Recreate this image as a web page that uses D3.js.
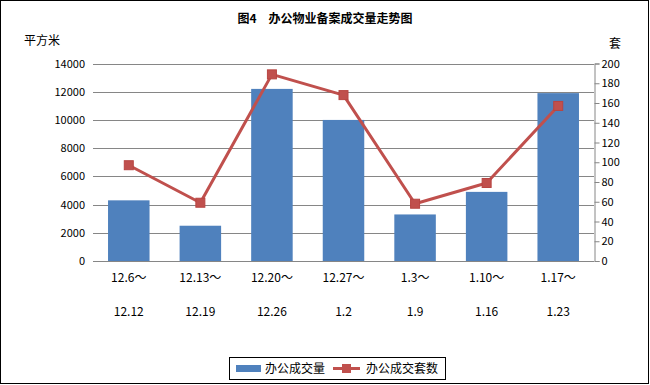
<!DOCTYPE html>
<html><head><meta charset="utf-8">
<script src="https://cdn.jsdelivr.net/npm/d3@7"></script>
<style>body{margin:0;background:#fff}svg{display:block}</style>
</head><body><svg id="c" width="650" height="385"></svg>
<script>
const catTop = ["12.6～","12.13～","12.20～","12.27～","1.3～","1.10～","1.17～"];
const catBottom = ["12.12","12.19","12.26","1.2","1.9","1.16","1.23"];
const areaValues = [4300, 2500, 12200, 10000, 3300, 4900, 11900];
const unitValues = [97, 59, 189, 168, 58, 79, 157];
const leftTicks = [0,2000,4000,6000,8000,10000,12000,14000];
const rightTicks = [0,20,40,60,80,100,120,140,160,180,200];

const svg = d3.select("#c");
const font = "'Noto Sans CJK SC', 'DejaVu Sans', sans-serif";
const L = 93, R = 594, T = 63.5, B = 261;
svg.append("rect").attr("x",0.5).attr("y",0.5).attr("width",648).attr("height",383)
  .attr("fill","#fff").attr("stroke","#000");

const x = d3.scaleBand().domain(d3.range(catTop.length)).range([L,R]).paddingInner(0.42).paddingOuter(0.21);
const yL = d3.scaleLinear().domain([0,14000]).range([B,T]);
const yR = d3.scaleLinear().domain([0,200]).range([B,T]);

// gridlines
svg.append("g").selectAll("line").data(leftTicks).join("line")
  .attr("x1",L).attr("x2",R).attr("y1",d=>Math.round(yL(d))+0.5).attr("y2",d=>Math.round(yL(d))+0.5)
  .attr("stroke","#868686").attr("stroke-width",1);
// left labels
svg.append("g").selectAll("text").data(leftTicks).join("text")
  .attr("x",L-8).attr("y",d=>yL(d)+4).attr("text-anchor","end")
  .attr("font-family",font).attr("font-size",11).attr("fill","#000").text(d=>d);

// bars
svg.append("g").selectAll("rect").data(areaValues).join("rect")
  .attr("x",(d,i)=>x(i)).attr("width",x.bandwidth())
  .attr("y",d=>yL(d)).attr("height",d=>B-yL(d)).attr("fill","#4F81BD");

// right axis
const ra = d3.axisRight(yR).tickValues(rightTicks).tickSize(5).tickPadding(2);
const rg = svg.append("g").attr("transform",`translate(${R+0.5},0)`).call(ra);
rg.select(".domain").attr("stroke","#868686");
rg.selectAll(".tick line").attr("stroke","#868686");
rg.selectAll(".tick text").attr("font-family",font).attr("font-size",11).attr("fill","#000");

// line
const lineGen = d3.line().x((d,i)=>x(i)+x.bandwidth()/2).y(d=>yR(d));
svg.append("path").datum(unitValues).attr("d",lineGen).attr("fill","none")
  .attr("stroke","#C0504D").attr("stroke-width",3).attr("stroke-linejoin","round");
svg.append("g").selectAll("rect").data(unitValues).join("rect")
  .attr("x",(d,i)=>x(i)+x.bandwidth()/2-4.5).attr("y",d=>yR(d)-4.5)
  .attr("width",9).attr("height",9).attr("fill","#C0504D").attr("stroke","#B84542");

// category labels
svg.append("g").selectAll("text").data(catTop).join("text")
  .attr("x",(d,i)=>x(i)+x.bandwidth()/2).attr("y",282).attr("text-anchor","middle")
  .attr("font-family",font).attr("font-size",12).text(d=>d);
svg.append("g").selectAll("text").data(catBottom).join("text")
  .attr("x",(d,i)=>x(i)+x.bandwidth()/2).attr("y",316).attr("text-anchor","middle")
  .attr("font-family",font).attr("font-size",12).text(d=>d);

// titles
svg.append("text").attr("x",325).attr("y",23).attr("text-anchor","middle")
  .attr("font-family",font).attr("font-size",12).attr("font-weight","bold").text("图4　办公物业备案成交量走势图");
svg.append("text").attr("x",24).attr("y",45).attr("font-family",font).attr("font-size",12).text("平方米");
svg.append("text").attr("x",609).attr("y",48).attr("font-family",font).attr("font-size",12).text("套");

// legend
const lg = svg.append("g");
lg.append("rect").attr("x",229.5).attr("y",357.5).attr("width",216).attr("height",22).attr("fill","#fff").attr("stroke","#000");
lg.append("rect").attr("x",236).attr("y",365).attr("width",25).attr("height",7).attr("fill","#4F81BD");
lg.append("text").attr("x",265).attr("y",373).attr("font-family",font).attr("font-size",12).text("办公成交量");
lg.append("line").attr("x1",333).attr("x2",360).attr("y1",368.5).attr("y2",368.5).attr("stroke","#C0504D").attr("stroke-width",3);
lg.append("rect").attr("x",342).attr("y",364).attr("width",9).attr("height",9).attr("fill","#C0504D");
lg.append("text").attr("x",366).attr("y",373).attr("font-family",font).attr("font-size",12).text("办公成交套数");
</script></body></html>
